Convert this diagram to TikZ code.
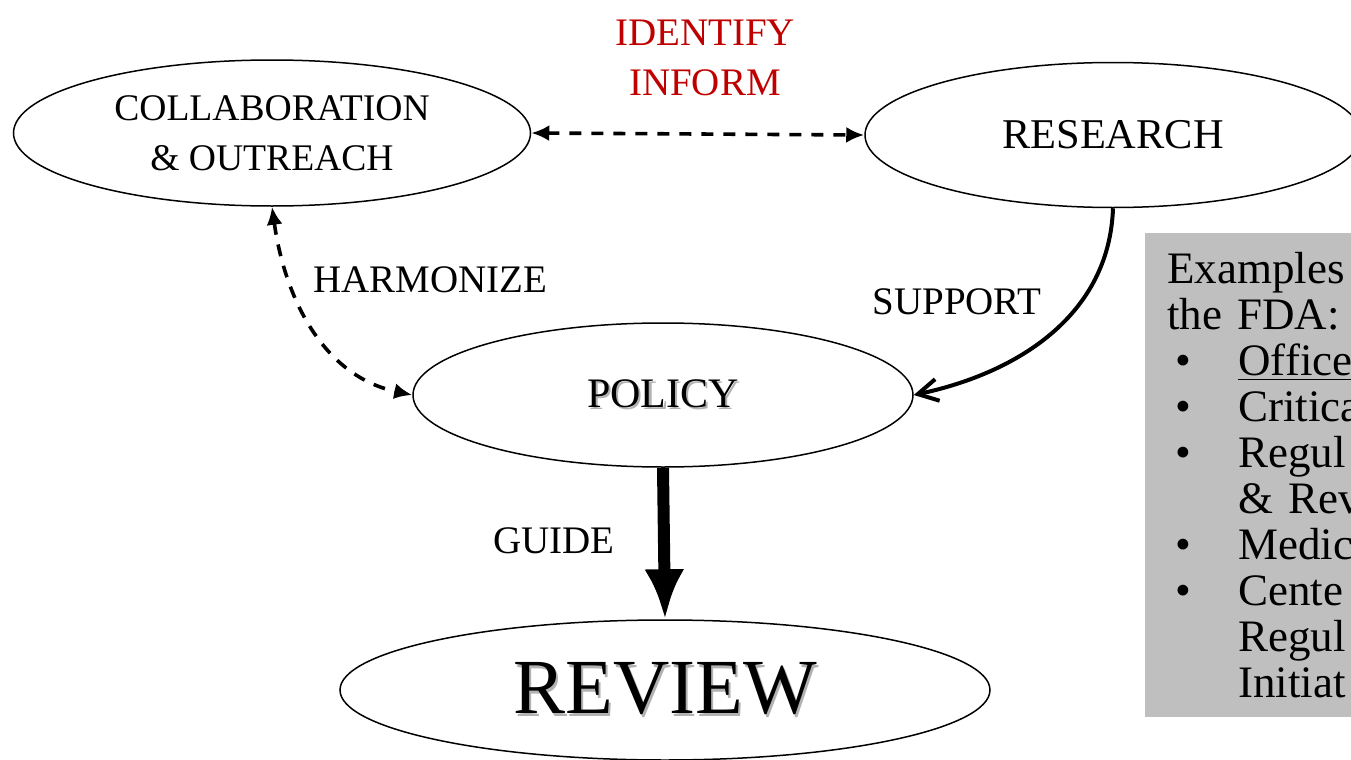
\documentclass[tikz,border=0pt]{standalone}
\usepackage{fontspec}
\setmainfont{Liberation Serif}
\usepackage{xcolor}
\usetikzlibrary{arrows.meta, shapes.geometric, positioning}

\definecolor{fdared}{HTML}{C00000}
\definecolor{boxgray}{HTML}{BFBFBF}
\newcommand{\shadowed}[1]{\rlap{\textcolor{black!30}{\kern1.2pt\raisebox{-1.2pt}{#1}}}#1}
\newcommand{\bul}{\makebox[35.5pt][l]{\hspace*{4pt}\textbullet}}
\newcommand{\ind}{\hspace*{35.5pt}}

\tikzset{
  bubble/.style={draw, ellipse, line width=0.75pt, inner sep=0pt, align=center},
  lbl/.style={font=\fontsize{19.5}{25}\selectfont, inner sep=0pt, align=center},
  dasharrow/.style={<->, line width=1.8pt, dash pattern=on 6pt off 5pt},
  infobox/.style={fill=boxgray, anchor=north west, inner xsep=11pt, inner ysep=7pt,
    minimum height=242pt, text width=200pt, align=left,
    font=\fontsize{22.5}{23}\selectfont},
}

\begin{document}
\begin{tikzpicture}[x=0.5pt, y=-0.5pt, >={Latex[length=9pt,width=8pt]}]
    \useasboundingbox (0,0) rectangle (1351,760);
    \clip (0,0) rectangle (1351,760);

    % 1. Cac hinh elip
    \node[bubble, minimum width=258.5pt, minimum height=73pt,
          font=\fontsize{18.8}{25}\selectfont] (collab) at (272,133)
          {COLLABORATION\\\& OUTREACH};
    \node[bubble, minimum width=248pt, minimum height=72.5pt,
          font=\fontsize{21.2}{25}\selectfont] (research) at (1113,135) {RESEARCH};
    \node[bubble, minimum width=250pt, minimum height=72pt,
          font=\fontsize{21}{25}\selectfont] (policy) at (663,395) {\shadowed{POLICY}};
    \node[bubble, minimum width=325pt, minimum height=70pt,
          font=\fontsize{39}{40}\selectfont] (review) at (665,690) {\shadowed{REVIEW}};

    % 2. Khung vi du
    \node[infobox] (examples) at (1145,233) {Examples\\
        the FDA:\\
        \bul\underline{Office\ }\\
        \bul Critica\\
        \bul Regul\\
        \ind\& Rev\\
        \bul Medic\\
        \bul Cente\\
        \ind Regul\\
        \ind Initiat};

    % 3. Cac mui ten
    \draw[dasharrow] (collab.east) -- (research.west);
    \draw[dasharrow] (collab.south) to[out=-82, in=168] (policy.west);
    \draw[line width=2pt, -{Straight Barb[length=10pt,width=11pt]}]
        (research.south) to[out=-92, in=12] (policy.east);
    \draw[line width=6pt, -{Latex[length=25pt,width=20pt]}] (policy.south) -- (review.north);

    % 4. Nhan
    \node[lbl, text=fdared] (identify) at (705,58) {IDENTIFY\\INFORM};
    \node[lbl] (harmonize) at (430,280) {HARMONIZE};
    \node[lbl] (support) at (957,302) {SUPPORT};
    \node[lbl] (guide) at (554,541) {GUIDE};
\end{tikzpicture}
\end{document}
